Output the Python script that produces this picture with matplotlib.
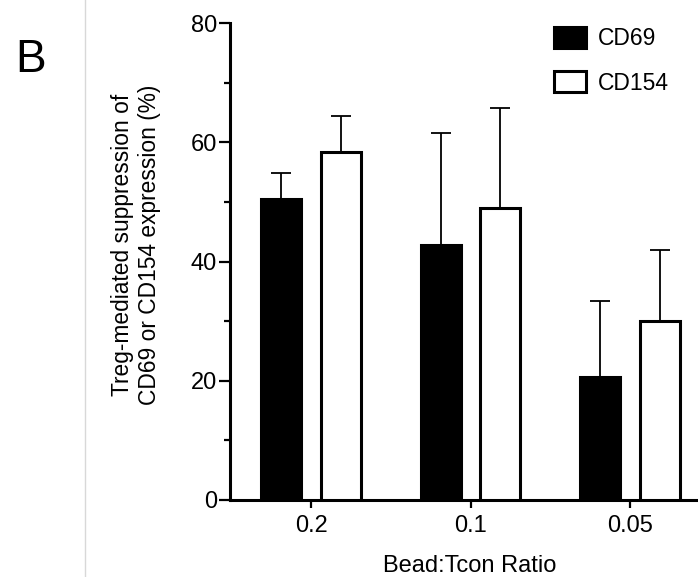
import matplotlib.pyplot as plt
import numpy as np
from matplotlib.lines import Line2D

plt.rcParams['font.family'] = ['Liberation Sans', 'DejaVu Sans']

ratios = ['0.2', '0.1', '0.05']
cd69 = [50.5, 42.8, 20.7]
cd69_err = [4.4, 18.7, 12.7]
cd154 = [58.4, 49.0, 30.0]
cd154_err = [6.0, 16.7, 12.0]

W, H = 698, 577
fig = plt.figure(figsize=(W / 100, H / 100), dpi=100)
ax = fig.add_axes([230 / W, 1 - 500 / H, 1 - 230 / W, (500 - 23) / H])

x = np.arange(len(ratios))
off = 0.187
bw = 0.25
err_kw = dict(elinewidth=1.3, capthick=1.3, ecolor='black')

ax.bar(x - off, cd69, bw, color='black', edgecolor='black', linewidth=2.2,
       yerr=[np.zeros(3), cd69_err], capsize=7.5, error_kw=err_kw, label='CD69', zorder=3)
ax.bar(x + off, cd154, bw, color='white', edgecolor='black', linewidth=2.2,
       yerr=[np.zeros(3), cd154_err], capsize=7.5, error_kw=err_kw, label='CD154', zorder=3)

ax.set_xlim(-0.508, 2.426)
ax.set_ylim(0, 80)
ax.set_xticks(x)
ax.set_xticklabels(ratios)
ax.set_yticks([0, 20, 40, 60, 80])
ax.set_yticks([10, 30, 50, 70], minor=True)

for s in ['top', 'right']:
    ax.spines[s].set_visible(False)
for s in ['left', 'bottom']:
    ax.spines[s].set_linewidth(2.2)

ax.tick_params(axis='both', which='major', labelsize=17, width=1.6, direction='out')
ax.tick_params(axis='y', which='major', length=8, pad=1.5)
ax.tick_params(axis='x', which='major', length=6, pad=5)
ax.tick_params(axis='y', which='minor', length=4.5, width=1.6)
ax.tick_params(axis='x', which='minor', bottom=False)

ax.set_ylabel('Treg-mediated suppression of\nCD69 or CD154 expression (%)', fontsize=16.4)
ax.yaxis.set_label_coords((161 - 230) / (W - 230), (500 - 245) / (500 - 23))
ax.set_xlabel('Bead:Tcon Ratio', fontsize=17)
ax.xaxis.set_label_coords((470 - 230) / (W - 230), -(555 - 500) / (500 - 23))
ax.xaxis.label.set_verticalalignment('top')

leg = fig.legend(loc='upper left', bbox_to_anchor=(554 / W, 1 - 27 / H), frameon=False,
                 fontsize=16.5, handlelength=1.4, handleheight=1.0, handletextpad=0.52,
                 labelspacing=0.93, borderpad=0, borderaxespad=0)

fig.text(15 / W, 1 - 60 / H, 'B', fontsize=33, ha='left', va='center')
fig.add_artist(Line2D([85 / W, 85 / W], [0, 1], transform=fig.transFigure,
                      color='#d8d8d8', linewidth=1))

fig.savefig('out.png', dpi=100)
